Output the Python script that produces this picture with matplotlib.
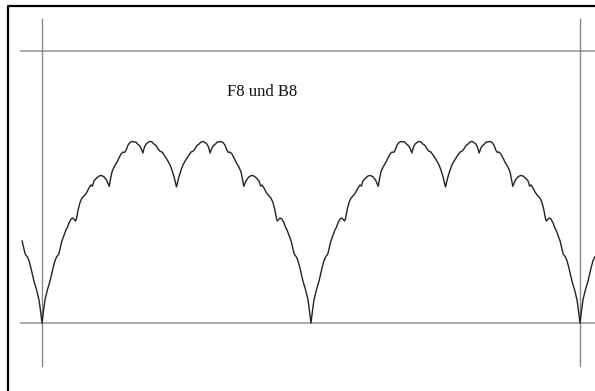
import matplotlib
matplotlib.use('Agg')
import matplotlib.pyplot as plt
import numpy as np

# one half period of the curve (x as fraction of the period, height)
t_half = [0.000, 0.006, 0.011, 0.020, 0.030, 0.041, 0.048, 0.054, 0.0625, 0.067,
          0.074, 0.082, 0.089, 0.095, 0.100, 0.108, 0.115, 0.125, 0.128, 0.135,
          0.142, 0.149, 0.156, 0.165, 0.175, 0.182, 0.1875, 0.193, 0.203, 0.212,
          0.221, 0.231, 0.240, 0.250, 0.254, 0.260, 0.268, 0.279, 0.286, 0.294,
          0.301, 0.307, 0.3125, 0.320, 0.327, 0.335, 0.342, 0.349, 0.355, 0.362,
          0.368, 0.375, 0.381, 0.387, 0.394, 0.401, 0.409, 0.416, 0.424, 0.429,
          0.4375, 0.441, 0.446, 0.454, 0.461, 0.468, 0.476, 0.483, 0.491, 0.500]
y_half = [0.000, 0.096, 0.169, 0.243, 0.309, 0.404, 0.456, 0.485, 0.507, 0.544,
          0.603, 0.647, 0.684, 0.706, 0.735, 0.765, 0.772, 0.750, 0.765, 0.838,
          0.890, 0.919, 0.934, 0.956, 0.993, 1.015, 1.007, 1.044, 1.066, 1.081,
          1.085, 1.074, 1.051, 1.005, 1.051, 1.110, 1.147, 1.184, 1.213, 1.243,
          1.257, 1.254, 1.270, 1.309, 1.327, 1.335, 1.331, 1.331, 1.316, 1.305,
          1.287, 1.250, 1.294, 1.316, 1.327, 1.335, 1.331, 1.316, 1.305, 1.287,
          1.265, 1.261, 1.257, 1.235, 1.213, 1.191, 1.162, 1.125, 1.074, 1.000]
periods = [-1, 0, 1, 2]
title = 'F8 und B8'

# full period = half + mirrored half, then repeated
t_per = np.concatenate([t_half, 1 - np.array(t_half[::-1])[1:]])
y_per = np.concatenate([y_half, np.array(y_half[::-1])[1:]])
xs = np.concatenate([t_per + k for k in periods])
ys = np.concatenate([y_per for k in periods])
keep = (xs >= -0.078) & (xs <= 2.06)

fig = plt.figure(figsize=(5.95, 3.91), dpi=100)
ax = fig.add_axes([0, 0, 1, 1])
ax.set_xlim(-0.1561, 2.0558)
ax.set_ylim(-0.5, 2.375)
ax.axis('off')

# frame (cut off at right and bottom)
ax.plot([8 / 595, 8 / 595, 1], [0, 1 - 6 / 391, 1 - 6 / 391], transform=ax.transAxes,
        color='black', lw=1.6, solid_capstyle='projecting', clip_on=False)

# reference lines
for yl in [0, 2]:
    ax.plot([-0.078, 2.06], [yl, yl], color='#999999', lw=1.2)
for xl in [0, 2]:
    ax.plot([xl, xl], [-0.316, 2.235], color='#888888', lw=1.0)

ax.plot(xs[keep], ys[keep], color='#222222', lw=1.0)

ax.text(0.818, 1.70, title, ha='center', va='center', fontsize=12,
        family='Liberation Serif', color='#111111')

fig.savefig('out.png', dpi=100)
